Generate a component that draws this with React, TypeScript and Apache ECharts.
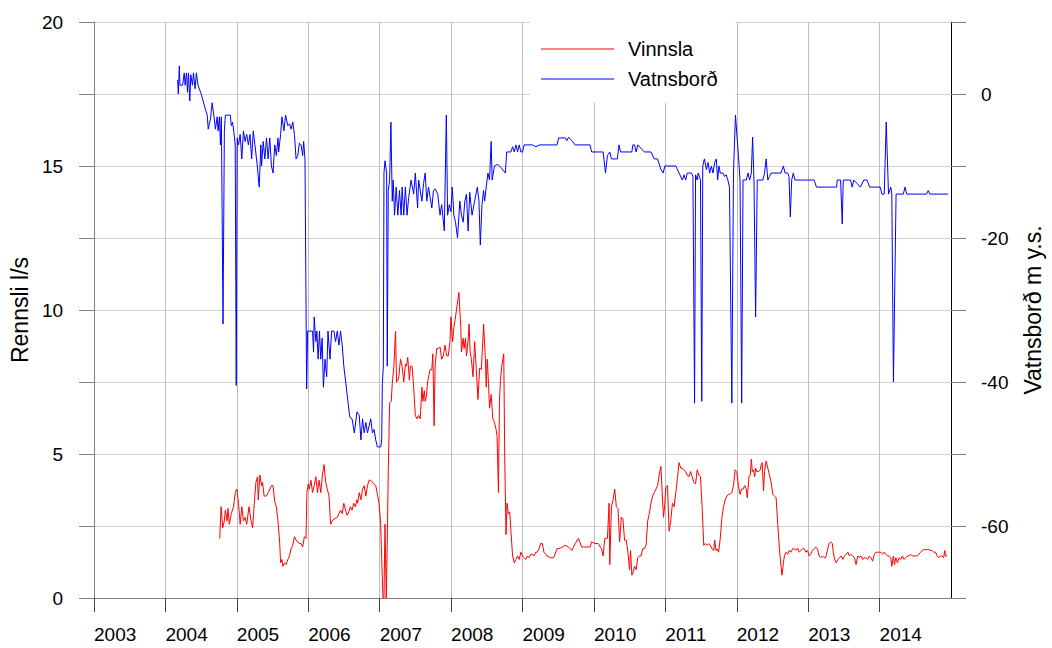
import React, { useEffect, useRef } from "react";
import * as echarts from "echarts";

// ---- Data (decimal years) ----
const vinnslaYears = [
  2004.760, 2004.779, 2004.802, 2004.825, 2004.839, 2004.862, 2004.876, 2004.894, 2004.922, 2004.954, 2004.977,
  2005.000, 2005.023, 2005.046, 2005.069, 2005.092, 2005.115, 2005.138, 2005.170, 2005.198, 2005.221, 2005.244,
  2005.267, 2005.290, 2005.299, 2005.323, 2005.346, 2005.359, 2005.382, 2005.415, 2005.438, 2005.484, 2005.507,
  2005.530, 2005.553, 2005.576, 2005.599, 2005.613, 2005.631, 2005.645, 2005.668, 2005.691, 2005.714, 2005.737,
  2005.760, 2005.783, 2005.806, 2005.829, 2005.853, 2005.876, 2005.899, 2005.922, 2005.945, 2005.968, 2005.981,
  2006.000, 2006.014, 2006.037, 2006.060, 2006.083, 2006.106, 2006.129, 2006.152, 2006.175, 2006.198, 2006.221,
  2006.244, 2006.267, 2006.290, 2006.313, 2006.336, 2006.359, 2006.406, 2006.429, 2006.452, 2006.475, 2006.498,
  2006.521, 2006.544, 2006.567, 2006.590, 2006.613, 2006.636, 2006.659, 2006.682,
  2006.691, 2006.714, 2006.737, 2006.760, 2006.783, 2006.806, 2006.829, 2006.852, 2006.875, 2006.898, 2006.921,
  2006.945, 2006.968, 2006.991, 2007.014, 2007.028, 2007.046, 2007.060, 2007.074, 2007.083, 2007.092, 2007.106,
  2007.120, 2007.139, 2007.162, 2007.176, 2007.199, 2007.222, 2007.236, 2007.254, 2007.268, 2007.291, 2007.314,
  2007.337, 2007.360, 2007.374, 2007.393, 2007.416, 2007.430, 2007.453, 2007.476, 2007.499, 2007.522, 2007.545,
  2007.568, 2007.591, 2007.605, 2007.624, 2007.637, 2007.651, 2007.674, 2007.707, 2007.730, 2007.744, 2007.762,
  2007.776, 2007.799, 2007.822, 2007.845, 2007.868, 2007.891, 2007.915, 2007.938, 2007.961, 2007.984, 2007.998,
  2008.021, 2008.039, 2008.062, 2008.085, 2008.109, 2008.136, 2008.145, 2008.169, 2008.182, 2008.201, 2008.215,
  2008.238, 2008.252, 2008.266, 2008.284, 2008.307, 2008.330, 2008.353, 2008.376, 2008.400, 2008.423, 2008.436,
  2008.455, 2008.478, 2008.492, 2008.506, 2008.524, 2008.538, 2008.561, 2008.584, 2008.607, 2008.630, 2008.644,
  2008.663, 2008.677, 2008.691, 2008.709, 2008.737, 2008.751, 2008.769, 2008.783, 2008.801, 2008.820, 2008.838,
  2008.861, 2008.885, 2008.908, 2008.931, 2008.954, 2008.977, 2009.000, 2009.023, 2009.046, 2009.069, 2009.092,
  2009.116, 2009.139, 2009.162, 2009.185, 2009.208, 2009.231, 2009.254, 2009.277, 2009.300,
  2009.344, 2009.390, 2009.437, 2009.483, 2009.529, 2009.598, 2009.644, 2009.691, 2009.737, 2009.783, 2009.829,
  2009.875, 2009.945, 2009.968, 2010.014, 2010.060, 2010.106, 2010.129, 2010.152, 2010.189, 2010.212, 2010.222,
  2010.245, 2010.268, 2010.291, 2010.314, 2010.337, 2010.360, 2010.383, 2010.406, 2010.429, 2010.452, 2010.476,
  2010.499, 2010.513, 2010.531, 2010.545, 2010.568, 2010.591, 2010.614, 2010.637, 2010.660, 2010.684, 2010.707,
  2010.730, 2010.753, 2010.776, 2010.799, 2010.822, 2010.845, 2010.868, 2010.891, 2010.914, 2010.938, 2010.961,
  2010.975, 2010.993, 2011.007, 2011.030, 2011.053, 2011.076, 2011.099, 2011.123, 2011.146, 2011.169, 2011.192,
  2011.215, 2011.238, 2011.261, 2011.284, 2011.307, 2011.330, 2011.353, 2011.376, 2011.399, 2011.423, 2011.446,
  2011.469, 2011.492, 2011.515, 2011.538, 2011.561, 2011.584, 2011.607, 2011.630, 2011.653, 2011.677, 2011.691,
  2011.709, 2011.723, 2011.746, 2011.769, 2011.792, 2011.815, 2011.838, 2011.861, 2011.884, 2011.907, 2011.931,
  2011.954, 2011.977, 2012.000, 2012.023, 2012.046, 2012.069,
  2012.088, 2012.111, 2012.134, 2012.148, 2012.171, 2012.190, 2012.204, 2012.218, 2012.236, 2012.250, 2012.264,
  2012.282, 2012.306, 2012.329, 2012.343, 2012.356, 2012.375, 2012.389, 2012.412, 2012.435, 2012.458, 2012.481,
  2012.505, 2012.528, 2012.551, 2012.574, 2012.597, 2012.620, 2012.634, 2012.653, 2012.667, 2012.690, 2012.713,
  2012.736, 2012.759, 2012.782, 2012.806, 2012.829, 2012.852, 2012.875, 2012.898, 2012.921, 2012.944, 2012.968,
  2012.991, 2013.014, 2013.037, 2013.060, 2013.083, 2013.106, 2013.130, 2013.153, 2013.176, 2013.199, 2013.222,
  2013.245, 2013.269, 2013.292, 2013.315, 2013.338, 2013.352, 2013.370, 2013.394, 2013.417, 2013.440, 2013.463,
  2013.486, 2013.509, 2013.532, 2013.556, 2013.579, 2013.602, 2013.625, 2013.648, 2013.671, 2013.694, 2013.718,
  2013.741, 2013.764, 2013.787, 2013.810, 2013.833, 2013.857, 2013.880, 2013.903, 2013.926, 2013.949, 2013.972,
  2013.995, 2014.019, 2014.042, 2014.065, 2014.088, 2014.111, 2014.134, 2014.157, 2014.171, 2014.194, 2014.208,
  2014.227, 2014.250, 2014.273, 2014.296, 2014.319, 2014.343, 2014.366, 2014.389, 2014.412, 2014.435, 2014.458,
  2014.482, 2014.505, 2014.528, 2014.551, 2014.574, 2014.597, 2014.620, 2014.644, 2014.667, 2014.690, 2014.713,
  2014.736, 2014.759, 2014.782, 2014.806, 2014.829, 2014.852, 2014.875, 2014.898, 2014.912, 2014.926, 2014.949,
];

const vinnslaValues = [
  2.07, 3.17, 2.44, 2.68, 3.05, 2.68, 3.11, 2.56, 2.93, 3.17, 3.66,
  3.78, 3.29, 2.56, 3.17, 2.68, 2.8, 2.56, 3.17, 2.68, 2.44, 3.29,
  4.02, 4.21, 3.41, 4.27, 3.9, 4.02, 3.54, 3.54, 3.66, 3.9, 3.9,
  3.35, 3.17, 2.68, 1.95, 1.22, 1.34, 1.1, 1.22, 1.16, 1.34, 1.46,
  1.71, 1.83, 2.13, 2.01, 1.95, 1.89, 1.89, 1.77, 2.13, 2.07, 3.66,
  3.96, 3.78, 4.09, 3.66, 3.9, 4.21, 3.66, 4.09, 3.66, 4.27, 4.63,
  4.02, 3.78, 3.54, 2.56, 2.68, 2.74, 2.8, 2.93, 3.05, 2.93, 3.29,
  3.05, 2.87, 2.99, 3.17, 3.05, 3.29, 3.17, 3.41,
  3.29, 3.66, 3.41, 3.78, 3.9, 3.54, 3.9, 4.09, 4.09, 4.02, 3.96,
  3.9, 3.6, 3.29, 2.56, 1.34, 0, 0, 2.56, 1.34, 0, 1.95,
  4.39, 6.77, 6.83, 7.44, 8.05, 9.27, 7.5, 7.56, 7.68, 8.29, 8.05,
  7.5, 8.11, 8.05, 8.35, 7.56, 8.05, 8.05, 7.32, 6.34, 6.22, 6.34,
  6.22, 7.32, 6.83, 7.2, 6.83, 6.95, 7.56, 7.93, 7.93, 8.48, 5.98,
  8.05, 8.66, 8.66, 8.72, 8.29, 8.41, 8.78, 8.41, 8.41, 8.9, 9.76,
  8.9, 9.39, 9.76, 10.18, 10.61, 9.39, 8.54, 9.02, 8.66, 9.02, 8.41,
  8.96, 9.51, 8.54, 8.29, 7.68, 8.9, 7.93, 6.89, 7.99, 7.93, 8.54,
  9.51, 8.41, 7.32, 8.29, 7.44, 6.59, 7.07, 6.22, 6.1, 5.85, 5.61,
  3.66, 6.83, 7.56, 8.05, 8.48, 4.88, 2.2, 3.29, 2.93, 2.99, 2.32,
  1.46, 1.22, 1.34, 1.46, 1.34, 1.59, 1.46, 1.4, 1.34, 1.46, 1.4,
  1.52, 1.52, 1.46, 1.59, 1.59, 1.71, 1.89, 1.89, 1.59,
  1.46, 1.4, 1.4, 1.71, 1.73, 1.83, 1.77, 1.65, 1.89, 2.07, 1.77,
  1.77, 1.77, 1.95, 1.89, 1.89, 1.71, 1.46, 2.07, 2.07, 3.29, 1.16,
  3.17, 3.41, 3.78, 3.17, 3.11, 1.95, 2.8, 2.74, 2.01, 2.01, 1.59,
  0.98, 1.65, 0.79, 0.85, 1.1, 0.98, 1.4, 1.46, 1.46, 1.71, 1.71,
  1.83, 2.68, 2.93, 3.29, 3.54, 3.66, 3.78, 3.9, 4.27, 4.57, 3.41,
  2.8, 3.29, 3.84, 3.9, 2.32, 2.68, 3.29, 3.17, 3.66, 4.15, 4.7,
  4.51, 4.51, 4.45, 4.39, 4.27, 4.21, 4.39, 4.21, 4.02, 3.96, 4.45,
  4.27, 4.21, 3.17, 1.83, 1.89, 1.83, 1.89, 1.83, 1.71, 1.65, 2.01,
  1.65, 1.71, 1.59, 2.07, 2.8, 3.17, 3.41, 3.54, 3.6, 3.6, 3.66,
  3.9, 4.45, 4.39, 3.9, 3.6, 3.78,
  3.78, 3.9, 3.78, 3.48, 4.21, 4.27, 4.82, 4.39, 4.45, 4.21, 4.51,
  4.39, 4.39, 4.45, 4.63, 4.7, 3.72, 4.39, 4.76, 4.51, 4.27, 4.02,
  3.6, 3.54, 3.48, 2.56, 1.71, 1.1, 0.79, 1.22, 1.46, 1.59, 1.52,
  1.65, 1.59, 1.71, 1.71, 1.65, 1.73, 1.59, 1.65, 1.71, 1.71, 1.59,
  1.65, 1.46, 1.52, 1.65, 1.71, 1.77, 1.71, 1.46, 1.4, 1.46, 1.4,
  1.4, 1.65, 1.89, 1.95, 1.89, 1.59, 1.34, 1.22, 1.34, 1.4, 1.46,
  1.34, 1.46, 1.52, 1.59, 1.46, 1.52, 1.46, 1.4, 1.16, 1.46, 1.4,
  1.46, 1.34, 1.4, 1.4, 1.34, 1.46, 1.4, 1.28, 1.52, 1.59, 1.59,
  1.59, 1.59, 1.52, 1.59, 1.52, 1.46, 1.46, 1.4, 1.1, 1.46, 1.16,
  1.4, 1.22, 1.4, 1.34, 1.46, 1.34, 1.4, 1.46, 1.46, 1.52, 1.46,
  1.46, 1.46, 1.46, 1.52, 1.59, 1.65, 1.68, 1.68, 1.68, 1.68, 1.65,
  1.65, 1.59, 1.59, 1.46, 1.4, 1.46, 1.46, 1.4, 1.65, 1.46, 1.46,
];

const vatnYears = [
  2004.171, 2004.180, 2004.194, 2004.203, 2004.240, 2004.263, 2004.276, 2004.295, 2004.309, 2004.323, 2004.341,
  2004.355, 2004.378, 2004.392, 2004.415, 2004.433, 2004.456, 2004.493, 2004.562, 2004.585, 2004.599, 2004.631,
  2004.654, 2004.677, 2004.700, 2004.724, 2004.737, 2004.756, 2004.770, 2004.783, 2004.806, 2004.825, 2004.839,
  2004.908, 2004.922, 2004.940, 2004.959, 2004.977, 2004.991, 2005.005, 2005.023, 2005.046, 2005.069, 2005.092,
  2005.115, 2005.138, 2005.161, 2005.184, 2005.207, 2005.230, 2005.253, 2005.286, 2005.313, 2005.336, 2005.346,
  2005.369, 2005.392, 2005.415, 2005.438, 2005.461, 2005.484, 2005.507, 2005.530, 2005.553, 2005.576, 2005.585,
  2005.613, 2005.631, 2005.659, 2005.682, 2005.714, 2005.737, 2005.760, 2005.783, 2005.806, 2005.829, 2005.853,
  2005.876, 2005.899, 2005.922, 2005.935, 2005.954, 2005.977, 2005.991, 2006.060, 2006.074, 2006.083, 2006.106,
  2006.120, 2006.138, 2006.157, 2006.175, 2006.194, 2006.212, 2006.235, 2006.258, 2006.276, 2006.304, 2006.327,
  2006.359, 2006.382, 2006.406, 2006.429, 2006.452, 2006.475, 2006.498, 2006.544, 2006.581, 2006.613, 2006.645,
  2006.682,
  2006.714, 2006.737, 2006.760, 2006.783, 2006.806, 2006.829, 2006.852, 2006.875, 2006.898, 2006.921, 2006.945,
  2006.968, 2007.014, 2007.028, 2007.037, 2007.051, 2007.060, 2007.074, 2007.097, 2007.106, 2007.120, 2007.139,
  2007.157, 2007.176, 2007.189, 2007.208, 2007.231, 2007.254, 2007.277, 2007.300, 2007.314, 2007.337, 2007.360,
  2007.383, 2007.406, 2007.439, 2007.476, 2007.499, 2007.531, 2007.545, 2007.568, 2007.591, 2007.614, 2007.637,
  2007.660, 2007.684, 2007.707, 2007.730, 2007.753, 2007.776, 2007.813, 2007.845, 2007.868, 2007.905, 2007.933,
  2007.951, 2007.975, 2007.998, 2008.016, 2008.039, 2008.062, 2008.090, 2008.122, 2008.145, 2008.169, 2008.192,
  2008.215, 2008.238, 2008.261, 2008.293, 2008.330, 2008.367, 2008.390, 2008.409, 2008.432, 2008.455, 2008.469,
  2008.492, 2008.515, 2008.538, 2008.561, 2008.575, 2008.607, 2008.654, 2008.700, 2008.760, 2008.778, 2008.838,
  2008.861, 2008.885, 2008.908, 2008.931, 2008.954, 2008.977, 2009.000, 2009.023, 2009.139, 2009.185, 2009.245,
  2009.321, 2009.483, 2009.506, 2009.598, 2009.621, 2009.644, 2009.691, 2009.737, 2009.945, 2009.968, 2010.129,
  2010.162, 2010.189, 2010.222, 2010.245, 2010.328, 2010.351, 2010.374, 2010.531, 2010.545, 2010.568, 2010.591,
  2010.614, 2010.707, 2010.799, 2010.845, 2010.891, 2010.938, 2010.970, 2010.993, 2011.146, 2011.192, 2011.238,
  2011.261, 2011.284, 2011.307, 2011.367, 2011.386, 2011.409, 2011.423, 2011.446, 2011.460, 2011.492, 2011.510,
  2011.524, 2011.547, 2011.575, 2011.598, 2011.621, 2011.644, 2011.667, 2011.691, 2011.714, 2011.732, 2011.751,
  2011.769, 2011.806, 2011.829, 2011.852, 2011.875, 2011.898, 2011.931, 2011.954, 2011.982, 2012.023, 2012.046,
  2012.069,
  2012.088, 2012.134, 2012.157, 2012.181, 2012.204, 2012.222, 2012.241, 2012.264, 2012.287, 2012.366, 2012.389,
  2012.412, 2012.435, 2012.458, 2012.481, 2012.620, 2012.653, 2012.676, 2012.713, 2012.731, 2012.750, 2012.769,
  2012.792, 2012.815, 2013.083, 2013.116, 2013.398, 2013.407, 2013.454, 2013.477, 2013.491, 2013.593, 2013.616,
  2013.639, 2013.685, 2013.731, 2013.778, 2013.824, 2013.861, 2014.009, 2014.032, 2014.065, 2014.093, 2014.125,
  2014.157, 2014.171, 2014.194, 2014.231, 2014.333, 2014.356, 2014.380, 2014.657, 2014.681, 2014.704, 2014.958,
];

const vatnValues = [
  1.95, 0.0, 3.9, 1.22, 1.22, 2.93, 1.22, 2.93, 0.24, 2.93, -0.98,
  2.68, 1.22, 2.93, 0.73, 2.93, 1.22, 0.24, -2.2, -2.93, -4.88, -3.41,
  -1.22, -2.93, -4.88, -3.17, -5.12, -3.17, -7.07, -3.17, -31.95, -5.12, -2.93,
  -2.93, -4.39, -3.9, -5.37, -7.07, -40.49, -6.1, -7.07, -5.61, -9.02, -5.12,
  -6.59, -5.61, -7.07, -5.61, -9.02, -5.12, -7.07, -10, -12.93, -7.07, -10,
  -6.59, -9.02, -6.1, -9.02, -6.1, -10, -10.98, -7.07, -8.54, -6.1, -8.05,
  -5.61, -3.17, -5.12, -2.93, -4.39, -4.15, -4.88, -3.9, -5.61, -9.02, -8.54,
  -6.83, -7.07, -8.54, -6.59, -9.02, -40.98, -32.93, -32.93, -35.85, -30.98, -34.39,
  -32.93, -36.83, -32.93, -36.83, -33.9, -40.73, -36.83, -39.27, -32.93, -36.83, -32.93,
  -32.93, -34.39, -32.93, -34.88, -32.93, -34.88, -37.8, -41.71, -44.88, -45.12, -47.07,
  -44.15,
  -44.63, -48.05, -45.12, -47.07, -45.61, -47.07, -46.1, -45.12, -47.07, -46.59, -48.05,
  -49.02, -49.02, -48.05, -40.24, -37.8, -10.98, -9.27, -10.98, -37.8, -13.41, -11.95,
  -3.9, -14.88, -11.95, -16.83, -12.93, -16.83, -13.41, -16.83, -12.93, -16.83, -12.93,
  -16.83, -14.39, -11.95, -13.9, -10.98, -15.85, -11.95, -13.41, -14.88, -12.44, -10.98,
  -14.88, -12.93, -14.39, -15.85, -13.41, -13.17, -13.9, -16.83, -15.37, -19.02, -2.93,
  -16.83, -15.37, -16.34, -12.93, -16.83, -17.8, -20.0, -14.88, -16.83, -17.8, -14.88,
  -13.9, -19.02, -13.66, -16.83, -14.88, -12.93, -14.88, -20.98, -15.37, -13.41, -14.88,
  -12.93, -10.98, -11.95, -6.59, -11.95, -10, -9.76, -10.24, -10.98, -8.05, -8.05,
  -7.32, -8.05, -7.07, -8.05, -7.07, -8.05, -8.05, -7.07, -7.07, -7.32, -7.07,
  -7.07, -7.07, -6.1, -6.1, -6.49, -6.0, -6.49, -7.07, -7.07, -8.05, -8.05,
  -10.98, -8.54, -8.05, -9.02, -9.02, -7.07, -8.05, -8.05, -7.07, -7.07, -8.05,
  -7.07, -8.05, -8.05, -9.02, -9.02, -10.49, -10.98, -10, -10, -10.98, -11.95,
  -11.22, -11.95, -10.98, -10.98, -11.46, -42.93, -11.22, -11.95, -10.98, -11.95, -42.68,
  -10, -9.02, -10.49, -9.51, -10.98, -10, -10.98, -9.51, -9.02, -11.95, -10,
  -10.98, -10.98, -11.46, -11.22, -11.95, -12.93, -42.93, -10.98, -2.93, -8.54, -11.95,
  -42.93,
  -11.95, -11.95, -10.98, -11.95, -10.98, -6.0, -11.95, -30.98, -11.95, -11.95, -10.98,
  -9.02, -11.95, -11.46, -10.98, -10.98, -10, -10.98, -10.98, -11.46, -17.07, -11.95,
  -10.98, -11.95, -11.95, -12.93, -12.93, -11.95, -11.95, -18.05, -11.95, -11.95, -12.93,
  -11.95, -12.44, -12.93, -11.95, -11.95, -12.93, -12.93, -13.9, -13.9, -3.9, -13.9,
  -12.93, -13.9, -40, -13.9, -13.9, -12.93, -13.9, -13.9, -13.41, -13.9, -13.9,
];

const yearTicks = [2003, 2004, 2005, 2006, 2007, 2008, 2009, 2010, 2011, 2012, 2013, 2014];
const leftLabels = [0, 5, 10, 15, 20];
const rightLabels = [-60, -40, -20, 0];

const FONT = '"Liberation Sans", Arial, Helvetica, sans-serif';

function pairs(xs: number[], ys: number[]) {
  const out: number[][] = [];
  const n = Math.min(xs.length, ys.length);
  for (let i = 0; i < n; i++) out.push([xs[i], ys[i]]);
  return out;
}

export default function App() {
  const ref = useRef<HTMLDivElement>(null);
  useEffect(() => {
    if (!ref.current) return;
    const chart = echarts.init(ref.current, undefined, { renderer: "svg" });
    chart.setOption({
      animation: false,
      backgroundColor: "#ffffff",
      textStyle: { fontFamily: FONT },
      grid: { left: 94, right: 94, top: 22, bottom: 50, containLabel: false },
      legend: {
        orient: "vertical",
        left: 530,
        top: 22,
        padding: [17, 18, 14, 11],
        itemGap: 10,
        itemWidth: 73,
        itemHeight: 1,
        icon: "rect",
        backgroundColor: "#ffffff",
        textStyle: { fontSize: 20, color: "#000", fontFamily: FONT, padding: [0, 0, 0, 9] },
        data: ["Vinnsla", "Vatnsborð"],
      },
      xAxis: {
        type: "value",
        min: 2003,
        max: 2015,
        interval: 1,
        axisLine: { show: true, lineStyle: { color: "#808080", width: 1 } },
        axisTick: { show: true, length: 14, lineStyle: { color: "#444" }, customValues: yearTicks },
        axisLabel: {
          fontSize: 19,
          color: "#000",
          fontFamily: FONT,
          align: "left",
          margin: 27,
          customValues: yearTicks,
          formatter: (v: number) => (yearTicks.includes(v) ? String(v) : ""),
        },
        splitLine: { show: true, lineStyle: { color: "#bdbdbd", width: 1 } },
      },
      yAxis: [
        {
          type: "value",
          position: "left",
          min: 0,
          max: 20,
          interval: 2.5,
          name: "Rennsli l/s",
          nameLocation: "middle",
          nameGap: 58,
          nameTextStyle: { fontSize: 23, color: "#000", fontFamily: FONT },
          axisLine: { show: true, lineStyle: { color: "#808080", width: 1 } },
          axisTick: { show: true, length: 15, lineStyle: { color: "#808080" } },
          axisLabel: {
            fontSize: 19,
            color: "#000",
            fontFamily: FONT,
            margin: 31,
            formatter: (v: number) => (leftLabels.includes(v) ? String(v) : ""),
          },
          splitLine: { show: true, lineStyle: { color: "#d2d2d2", width: 1 } },
        },
        {
          type: "value",
          position: "right",
          min: -70,
          max: 10,
          interval: 10,
          name: "Vatnsborð m y.s.",
          nameLocation: "middle",
          nameGap: 70,
          nameTextStyle: { fontSize: 23, color: "#000", fontFamily: FONT },
          axisLine: { show: true, lineStyle: { color: "#000", width: 1 } },
          axisTick: { show: true, length: 15, lineStyle: { color: "#808080" } },
          axisLabel: {
            fontSize: 19,
            color: "#000",
            fontFamily: FONT,
            margin: 30,
            formatter: (v: number) => (rightLabels.includes(v) ? String(v) : ""),
          },
          splitLine: { show: false },
        },
      ],
      series: [
        {
          name: "Vinnsla",
          type: "line",
          yAxisIndex: 0,
          symbol: "none",
          data: pairs(vinnslaYears, vinnslaValues),
          lineStyle: { color: "#ff0000", width: 1 },
          itemStyle: { color: "#ff0000" },
        },
        {
          name: "Vatnsborð",
          type: "line",
          yAxisIndex: 1,
          symbol: "none",
          data: pairs(vatnYears, vatnValues),
          lineStyle: { color: "#0000ff", width: 1 },
          itemStyle: { color: "#0000ff" },
        },
      ],
    });
    return () => chart.dispose();
  }, []);
  return (
    <div
      ref={ref}
      style={{ position: "fixed", left: 0, top: 0, width: 1052, height: 648 }}
    />
  );
}
